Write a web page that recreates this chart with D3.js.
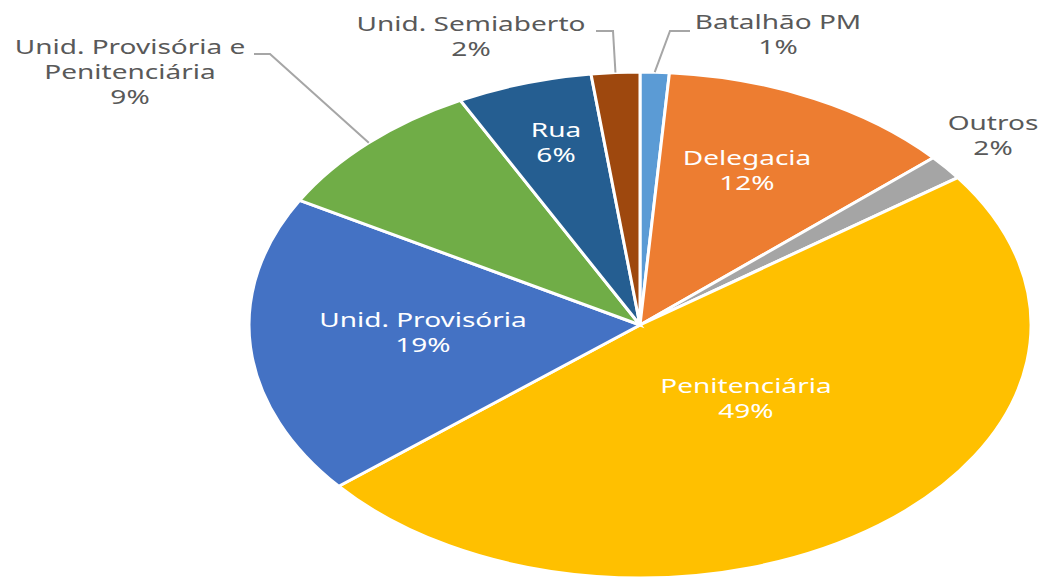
<!DOCTYPE html>
<html>
<head>
<meta charset="utf-8">
<script src="https://cdn.jsdelivr.net/npm/d3@7"></script>
<style>
  body { margin: 0; background: #fff; }
  text { font-family: "Noto Sans", sans-serif; font-size: 20px; }
</style>
</head>
<body>
<div id="chart"></div>
<script>
// data, clockwise from 12 o'clock
const categories = ['Batalhão PM', 'Delegacia', 'Outros', 'Penitenciária',
  'Unid. Provisória', 'Unid. Provisória e Penitenciária', 'Rua', 'Unid. Semiaberto']
const values = [1.2, 12.3, 1.6, 48.9, 19.2, 9.2, 5.6, 2.0]
const colors = ['#5B9BD5', '#ED7D31', '#A5A5A5', '#FFC000',
  '#4472C4', '#70AD47', '#255E91', '#9E480E']
// label text lines (last line is the percent)
const labelLines = [['Batalhão PM'], ['Delegacia'], ['Outros'], ['Penitenciária'],
  ['Unid. Provisória'], ['Unid. Provisória e', 'Penitenciária'], ['Rua'], ['Unid. Semiaberto']]

const width = 1044, height = 578
const cx = 640, cy = 325
const r = 253          // vertical radius
const sx = 391 / 253   // the pie is stretched horizontally
const textStretch = 1.4
const lineH = 25

// label placement: center x, first baseline, inside or not, leader elbow
const labelPlace = {
  'Batalhão PM': { x: 778, y: 29, inside: false, elbow: [[690, 31], [670, 31]] },
  'Delegacia': { x: 747, y: 165, inside: true },
  'Outros': { x: 993, y: 130, inside: false },
  'Penitenciária': { x: 746, y: 393, inside: true },
  'Unid. Provisória': { x: 423, y: 327, inside: true },
  'Unid. Provisória e Penitenciária': { x: 130, y: 54, inside: false, elbow: [[254, 54], [270, 54]] },
  'Rua': { x: 556, y: 137, inside: true },
  'Unid. Semiaberto': { x: 471, y: 31, inside: false, elbow: [[596, 31], [613, 31]] }
}

const data = categories.map((c, i) => ({ name: c, value: values[i], color: colors[i], lines: labelLines[i] }))

const svg = d3.select('#chart').append('svg')
  .attr('width', width)
  .attr('height', height)

const pie = d3.pie().sort(null).value(d => d.value)
const arc = d3.arc().innerRadius(0).outerRadius(r)
const arcs = pie(data)

// slices
svg.append('g')
  .attr('transform', `translate(${cx},${cy}) scale(${sx},1)`)
  .selectAll('path')
  .data(arcs)
  .enter().append('path')
  .attr('d', arc)
  .attr('fill', d => d.data.color)
  .attr('stroke', '#fff')
  .attr('stroke-width', 3)
  .attr('vector-effect', 'non-scaling-stroke')

// leader lines
const edgePoint = d => {
  const a = (d.startAngle + d.endAngle) / 2
  return [cx + Math.sin(a) * r * sx, cy - Math.cos(a) * r]
}
svg.append('g').selectAll('polyline')
  .data(arcs.filter(d => labelPlace[d.data.name].elbow))
  .enter().append('polyline')
  .attr('points', d => labelPlace[d.data.name].elbow.concat([edgePoint(d)]).map(p => p.join(',')).join(' '))
  .attr('fill', 'none')
  .attr('stroke', '#A6A6A6')
  .attr('stroke-width', 2)

// labels
const lbl = svg.append('g').selectAll('text')
  .data(arcs)
  .enter().append('text')
  .attr('text-anchor', 'middle')
  .attr('transform', d => {
    const p = labelPlace[d.data.name]
    return `translate(${p.x},${p.y}) scale(${textStretch},1)`
  })
  .attr('fill', d => labelPlace[d.data.name].inside ? '#fff' : '#595959')

lbl.selectAll('tspan')
  .data(d => d.data.lines.concat([Math.round(d.data.value) + '%']))
  .enter().append('tspan')
  .attr('x', 0)
  .attr('y', (d, i) => i * lineH)
  .text(d => d)
</script>
</body>
</html>
